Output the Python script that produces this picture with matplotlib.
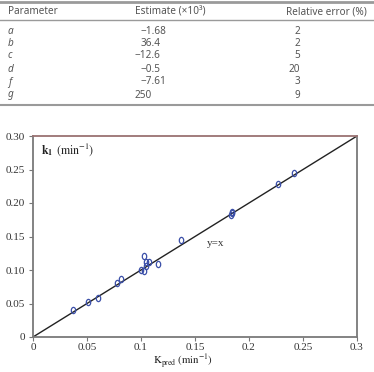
"""Parameter table plus predicted vs measured k1 parity plot."""

import matplotlib
matplotlib.use("Agg")
import matplotlib.pyplot as plt
from matplotlib.lines import Line2D
from matplotlib.markers import MarkerStyle
from matplotlib.transforms import Affine2D

# table data
params = ["a", "b", "c", "d", "f", "g"]
estimates = ["\u22121.68", "36.4", "\u221212.6", "\u22120.5", "\u22127.61", "250"]
rel_errors = ["2", "2", "5", "20", "3", "9"]

# parity plot data
k_pred = [0.037, 0.0506, 0.060, 0.0775, 0.0815, 0.1003, 0.103, 0.103, 0.1046,
          0.1046, 0.1077, 0.116, 0.1367, 0.1833, 0.184, 0.1846, 0.2266, 0.2417]
k_meas = [0.040, 0.0527, 0.058, 0.080, 0.0866, 0.0996, 0.099, 0.121, 0.1125,
          0.106, 0.112, 0.109, 0.1448, 0.182, 0.185, 0.187, 0.2285, 0.2444]
xticks = [0, 0.05, 0.1, 0.15, 0.2, 0.25, 0.3]
xtick_labels = ["0", "0.05", "0.1", "0.15", "0.2", "0.25", "0.3"]
yticks = [0, 0.05, 0.10, 0.15, 0.20, 0.25, 0.30]
ytick_labels = ["0", "0.05", "0.10", "0.15", "0.20", "0.25", "0.30"]

W, H = 374, 372
plt.rcParams["mathtext.fontset"] = "stix"
fig = plt.figure(figsize=(W / 100, H / 100), dpi=100)
renderer = fig.canvas.get_renderer()


def fx(px):
    return px / W


def fy(py):
    return 1 - py / H


# --- table ---
tcol = "#555555"
tfont = "Noto Sans"
tsize = 7.2
for y, lw in [(2, 2.0), (20, 1.0), (105, 1.5)]:
    fig.add_artist(Line2D([0, 1], [fy(y), fy(y)], color="#9a9a9a", lw=lw))

fig.text(fx(8), fy(12), "Parameter", family=tfont, size=tsize, color=tcol, va="center")
fig.text(fx(135), fy(12), "Estimate (\u00d710\u00b3)", family=tfont, size=tsize,
         color=tcol, va="center")
fig.text(fx(367), fy(12), "Relative error (%)", family=tfont, size=tsize, color=tcol,
         va="center", ha="right")

row_y = [31, 43, 56, 69, 82, 95]
for yy, p, est, err in zip(row_y, params, estimates, rel_errors):
    fig.text(fx(8), fy(yy), p, family=tfont, size=tsize, color=tcol, va="center",
             style="italic")
    # align estimates on the decimal point
    whole = est.partition(".")[0]
    probe = fig.text(0, 0, whole, family=tfont, size=tsize)
    wpx = probe.get_window_extent(renderer).width
    probe.remove()
    fig.text(fx(152 - wpx), fy(yy), est, family=tfont, size=tsize, color=tcol,
             va="center", ha="left")
    fig.text(fx(300), fy(yy), err, family=tfont, size=tsize, color=tcol,
             va="center", ha="right")

# --- parity plot ---
ax = fig.add_axes([fx(33), fy(337), (357 - 33) / W, (337 - 136) / H])
ax.plot([0, 0.3], [0, 0.3], color="#222222", lw=1.0)
marker = MarkerStyle("o", fillstyle="none", transform=Affine2D().scale(0.7, 1.0))
ax.plot(k_pred, k_meas, linestyle="none", marker=marker, markersize=4.5,
        markeredgecolor="#3b4fa8", markeredgewidth=0.9)

ax.set_xlim(0, 0.3)
ax.set_ylim(0, 0.3)
ax.set_xticks(xticks)
ax.set_xticklabels(xtick_labels)
ax.set_yticks(yticks)
ax.set_yticklabels(ytick_labels)
ax.tick_params(direction="out", length=3, width=0.8, color="#777777",
               labelsize=8, labelcolor="#333333", pad=3)
ax.tick_params(axis="x", pad=1.5)
for lab in ax.get_xticklabels() + ax.get_yticklabels():
    lab.set_family("Liberation Serif")
for name, sp in ax.spines.items():
    sp.set_color("#7a7a7a")
    sp.set_linewidth(1.3)
ax.spines["top"].set_color("#9a7272")

ax.text(0.025, 0.975, "$\\mathbf{k_1}$ $\\mathrm{(min^{-1})}$", transform=ax.transAxes,
        fontsize=8.5, color="#222222", va="top")
ax.text(0.537, 0.463, "y=x", transform=ax.transAxes, fontsize=8, color="#333333",
        family="Liberation Serif", va="center")
fig.text(fx(183), fy(361.5), "$\\mathrm{K_{pred}\\ (min^{-1})}$", fontsize=7.8,
         color="#222222", ha="center", va="center")

fig.savefig("out.png", dpi=100)
